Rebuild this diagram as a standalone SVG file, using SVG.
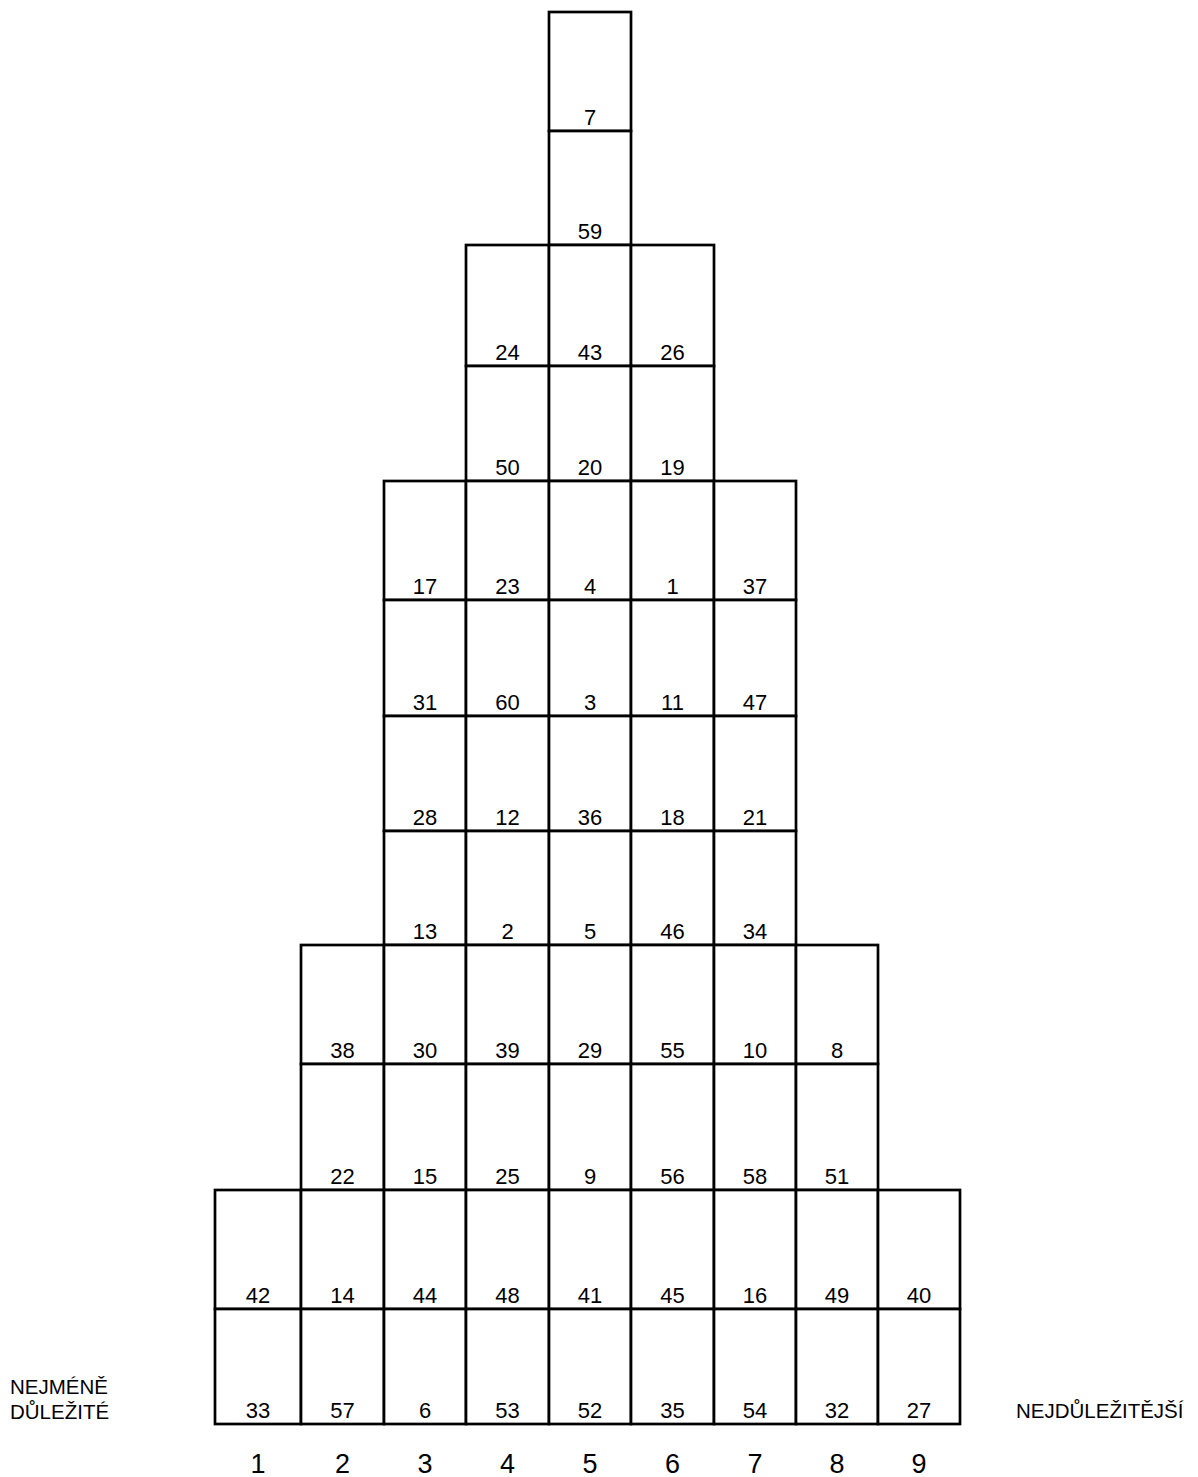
<svg xmlns="http://www.w3.org/2000/svg" width="1198" height="1477" viewBox="0 0 1198 1477">
<style>
.c rect{fill:#fff;stroke:#000;stroke-width:2.7}
.c text,.n{font-family:"Liberation Sans",Arial,sans-serif;font-size:22px;text-anchor:middle;fill:#000}
.ax{font-family:"Liberation Sans",Arial,sans-serif;font-size:27px;text-anchor:middle;fill:#000}
.lb{font-family:"Liberation Sans",Arial,sans-serif;font-size:20.5px;fill:#000}
</style>
<rect width="1198" height="1477" fill="#fff"/>
<g id="connectors"></g>
<g id="grid" class="c">
<g id="r0c5"><rect x="549" y="12" width="82" height="119"/><text x="590" y="125">7</text></g>
<g id="r1c5"><rect x="549" y="131" width="82" height="114"/><text x="590" y="239">59</text></g>

<g id="r2c4"><rect x="466" y="245" width="83" height="121"/><text x="507.5" y="360">24</text></g>
<g id="r2c5"><rect x="549" y="245" width="82" height="121"/><text x="590" y="360">43</text></g>
<g id="r2c6"><rect x="631" y="245" width="83" height="121"/><text x="672.5" y="360">26</text></g>

<g id="r3c4"><rect x="466" y="366" width="83" height="115"/><text x="507.5" y="475">50</text></g>
<g id="r3c5"><rect x="549" y="366" width="82" height="115"/><text x="590" y="475">20</text></g>
<g id="r3c6"><rect x="631" y="366" width="83" height="115"/><text x="672.5" y="475">19</text></g>

<g id="r4c3"><rect x="384" y="481" width="82" height="119"/><text x="425" y="594">17</text></g>
<g id="r4c4"><rect x="466" y="481" width="83" height="119"/><text x="507.5" y="594">23</text></g>
<g id="r4c5"><rect x="549" y="481" width="82" height="119"/><text x="590" y="594">4</text></g>
<g id="r4c6"><rect x="631" y="481" width="83" height="119"/><text x="672.5" y="594">1</text></g>
<g id="r4c7"><rect x="714" y="481" width="82" height="119"/><text x="755" y="594">37</text></g>

<g id="r5c3"><rect x="384" y="600" width="82" height="116"/><text x="425" y="710">31</text></g>
<g id="r5c4"><rect x="466" y="600" width="83" height="116"/><text x="507.5" y="710">60</text></g>
<g id="r5c5"><rect x="549" y="600" width="82" height="116"/><text x="590" y="710">3</text></g>
<g id="r5c6"><rect x="631" y="600" width="83" height="116"/><text x="672.5" y="710">11</text></g>
<g id="r5c7"><rect x="714" y="600" width="82" height="116"/><text x="755" y="710">47</text></g>

<g id="r6c3"><rect x="384" y="716" width="82" height="115"/><text x="425" y="825">28</text></g>
<g id="r6c4"><rect x="466" y="716" width="83" height="115"/><text x="507.5" y="825">12</text></g>
<g id="r6c5"><rect x="549" y="716" width="82" height="115"/><text x="590" y="825">36</text></g>
<g id="r6c6"><rect x="631" y="716" width="83" height="115"/><text x="672.5" y="825">18</text></g>
<g id="r6c7"><rect x="714" y="716" width="82" height="115"/><text x="755" y="825">21</text></g>

<g id="r7c3"><rect x="384" y="831" width="82" height="114"/><text x="425" y="939">13</text></g>
<g id="r7c4"><rect x="466" y="831" width="83" height="114"/><text x="507.5" y="939">2</text></g>
<g id="r7c5"><rect x="549" y="831" width="82" height="114"/><text x="590" y="939">5</text></g>
<g id="r7c6"><rect x="631" y="831" width="83" height="114"/><text x="672.5" y="939">46</text></g>
<g id="r7c7"><rect x="714" y="831" width="82" height="114"/><text x="755" y="939">34</text></g>

<g id="r8c2"><rect x="301" y="945" width="83" height="119"/><text x="342.5" y="1058">38</text></g>
<g id="r8c3"><rect x="384" y="945" width="82" height="119"/><text x="425" y="1058">30</text></g>
<g id="r8c4"><rect x="466" y="945" width="83" height="119"/><text x="507.5" y="1058">39</text></g>
<g id="r8c5"><rect x="549" y="945" width="82" height="119"/><text x="590" y="1058">29</text></g>
<g id="r8c6"><rect x="631" y="945" width="83" height="119"/><text x="672.5" y="1058">55</text></g>
<g id="r8c7"><rect x="714" y="945" width="82" height="119"/><text x="755" y="1058">10</text></g>
<g id="r8c8"><rect x="796" y="945" width="82" height="119"/><text x="837" y="1058">8</text></g>

<g id="r9c2"><rect x="301" y="1064" width="83" height="126"/><text x="342.5" y="1184">22</text></g>
<g id="r9c3"><rect x="384" y="1064" width="82" height="126"/><text x="425" y="1184">15</text></g>
<g id="r9c4"><rect x="466" y="1064" width="83" height="126"/><text x="507.5" y="1184">25</text></g>
<g id="r9c5"><rect x="549" y="1064" width="82" height="126"/><text x="590" y="1184">9</text></g>
<g id="r9c6"><rect x="631" y="1064" width="83" height="126"/><text x="672.5" y="1184">56</text></g>
<g id="r9c7"><rect x="714" y="1064" width="82" height="126"/><text x="755" y="1184">58</text></g>
<g id="r9c8"><rect x="796" y="1064" width="82" height="126"/><text x="837" y="1184">51</text></g>

<g id="r10c1"><rect x="215" y="1190" width="86" height="119"/><text x="258" y="1303">42</text></g>
<g id="r10c2"><rect x="301" y="1190" width="83" height="119"/><text x="342.5" y="1303">14</text></g>
<g id="r10c3"><rect x="384" y="1190" width="82" height="119"/><text x="425" y="1303">44</text></g>
<g id="r10c4"><rect x="466" y="1190" width="83" height="119"/><text x="507.5" y="1303">48</text></g>
<g id="r10c5"><rect x="549" y="1190" width="82" height="119"/><text x="590" y="1303">41</text></g>
<g id="r10c6"><rect x="631" y="1190" width="83" height="119"/><text x="672.5" y="1303">45</text></g>
<g id="r10c7"><rect x="714" y="1190" width="82" height="119"/><text x="755" y="1303">16</text></g>
<g id="r10c8"><rect x="796" y="1190" width="82" height="119"/><text x="837" y="1303">49</text></g>
<g id="r10c9"><rect x="878" y="1190" width="82" height="119"/><text x="919" y="1303">40</text></g>

<g id="r11c1"><rect x="215" y="1309" width="86" height="115"/><text x="258" y="1418">33</text></g>
<g id="r11c2"><rect x="301" y="1309" width="83" height="115"/><text x="342.5" y="1418">57</text></g>
<g id="r11c3"><rect x="384" y="1309" width="82" height="115"/><text x="425" y="1418">6</text></g>
<g id="r11c4"><rect x="466" y="1309" width="83" height="115"/><text x="507.5" y="1418">53</text></g>
<g id="r11c5"><rect x="549" y="1309" width="82" height="115"/><text x="590" y="1418">52</text></g>
<g id="r11c6"><rect x="631" y="1309" width="83" height="115"/><text x="672.5" y="1418">35</text></g>
<g id="r11c7"><rect x="714" y="1309" width="82" height="115"/><text x="755" y="1418">54</text></g>
<g id="r11c8"><rect x="796" y="1309" width="82" height="115"/><text x="837" y="1418">32</text></g>
<g id="r11c9"><rect x="878" y="1309" width="82" height="115"/><text x="919" y="1418">27</text></g>
</g>
<g id="axis">
<text class="ax" x="258" y="1473">1</text>
<text class="ax" x="342.5" y="1473">2</text>
<text class="ax" x="425" y="1473">3</text>
<text class="ax" x="507.5" y="1473">4</text>
<text class="ax" x="590" y="1473">5</text>
<text class="ax" x="672.5" y="1473">6</text>
<text class="ax" x="755" y="1473">7</text>
<text class="ax" x="837" y="1473">8</text>
<text class="ax" x="919" y="1473">9</text>
</g>
<g id="label-least"><text class="lb" x="10" y="1394">NEJMÉNĚ</text><text class="lb" x="10" y="1419">DŮLEŽITÉ</text></g>
<g id="label-most"><text class="lb" x="1016" y="1418">NEJDŮLEŽITĚJŠÍ</text></g>
</svg>
